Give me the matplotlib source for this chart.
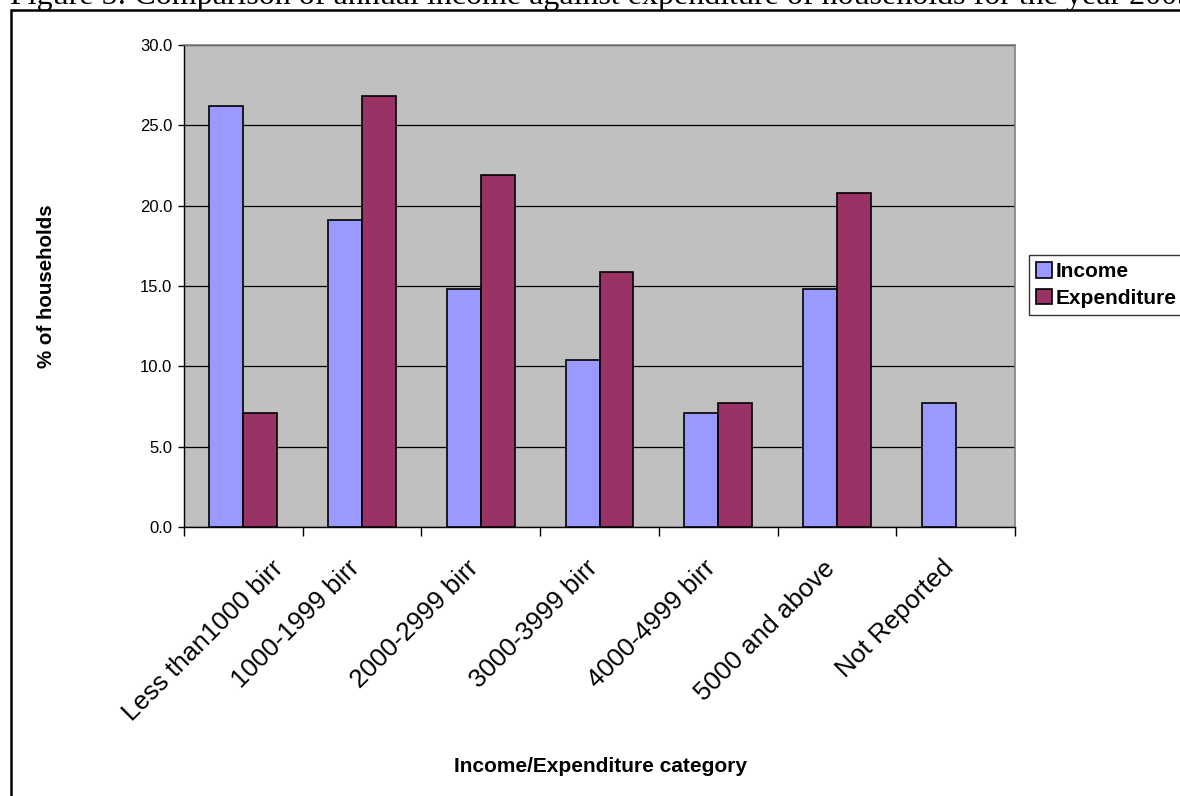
import numpy as np
import matplotlib
matplotlib.use("Agg")
import matplotlib.pyplot as plt
from matplotlib.patches import Patch, Rectangle
from matplotlib.transforms import ScaledTranslation

categories = ["Less than1000 birr", "1000-1999 birr", "2000-2999 birr",
              "3000-3999 birr", "4000-4999 birr", "5000 and above", "Not Reported"]
income = [26.2, 19.1, 14.8, 10.4, 7.1, 14.8, 7.7]
expenditure = [7.1, 26.8, 21.9, 15.9, 7.7, 20.8, None]
y_ticks = [0.0, 5.0, 10.0, 15.0, 20.0, 25.0, 30.0]

title = "Figure 5: Comparison of annual income against expenditure of households for the year 2005"

W, H = 1180, 796
fig = plt.figure(figsize=(W / 100, H / 100), dpi=100)
fig.patch.set_facecolor("white")

ax = fig.add_axes([184 / W, 1 - 527 / H, (1015 - 184) / W, (527 - 45) / H])
ax.set_facecolor("#C0C0C0")

x = np.arange(len(categories))
bw = 1 / 3.5
inc_color = "#9999FF"
exp_color = "#993366"

ax.bar(x - bw / 2, income, width=bw, color=inc_color, edgecolor="black",
       linewidth=1.2, zorder=3)
ex_idx = [i for i, v in enumerate(expenditure) if v is not None]
ax.bar(x[ex_idx] + bw / 2, [expenditure[i] for i in ex_idx], width=bw,
       color=exp_color, edgecolor="black", linewidth=1.2, zorder=3)

ax.set_xlim(-0.5, len(categories) - 0.5)
ax.set_ylim(0, 30)
ax.set_yticks(y_ticks)
ax.set_yticklabels([f"{v:.1f}" for v in y_ticks], fontsize=12, family="Liberation Sans")
ax.yaxis.grid(True, color="black", linewidth=0.9, zorder=0)
ax.set_axisbelow(True)

ax.set_xticks(x)
ax.set_xticklabels(categories, rotation=45, ha="right", va="center",
                   rotation_mode="anchor", fontsize=18.7, family="Liberation Sans")
ax.set_xticks(np.arange(len(categories) + 1) - 0.5, minor=True)
ax.tick_params(axis="x", which="major", length=0, pad=27)
ax.tick_params(axis="x", which="minor", length=6.5, width=1.0, direction="out")
ax.tick_params(axis="y", which="major", length=4.3, width=1.0, direction="out", pad=4)

# category labels sit slightly left of centre; the long first one is pushed
# right so it stays inside the chart frame
for i, lbl in enumerate(ax.get_xticklabels()):
    dx = 0.36 if i == 0 else -0.06
    lbl.set_transform(lbl.get_transform() + ScaledTranslation(dx, 0, fig.dpi_scale_trans))

for s in ("left", "bottom"):
    ax.spines[s].set_color("black")
    ax.spines[s].set_linewidth(1.0)
for s in ("top", "right"):
    ax.spines[s].set_color("#808080")
    ax.spines[s].set_linewidth(1.2)

fig.text(46.5 / W, 1 - 286 / H, "% of households", rotation=90, ha="center",
         va="center", fontsize=14.8, fontweight="bold", family="Liberation Sans")
fig.text(600 / W, 1 - 766 / H, "Income/Expenditure category", ha="center",
         va="center", fontsize=15, fontweight="bold", family="Liberation Sans")

handles = [Patch(facecolor=inc_color, edgecolor="black", linewidth=1.2, label="Income"),
           Patch(facecolor=exp_color, edgecolor="black", linewidth=1.2, label="Expenditure")]
leg = fig.legend(handles=handles, loc="upper left",
                 bbox_to_anchor=(1029 / W, 1 - 255 / H), borderaxespad=0,
                 frameon=True, fancybox=False, shadow=False,
                 prop={"family": "Liberation Sans", "weight": "bold", "size": 15},
                 handlelength=0.75, handleheight=0.75, handletextpad=0.2,
                 borderpad=0.35, labelspacing=0.35)
leg.get_frame().set_edgecolor("black")
leg.get_frame().set_linewidth(1.0)

# page title partly above the visible area, and the surrounding frame
fig.text(10 / W, 1 - 4 / H, title, ha="left", va="baseline", fontsize=23,
         family="Liberation Serif")
fig.patches.append(Rectangle((10.5 / W, -0.1), 1.2, (H - 10.5) / H + 0.1,
                             transform=fig.transFigure, fill=False,
                             edgecolor="black", linewidth=1.8))

fig.savefig("out.png", dpi=100)
